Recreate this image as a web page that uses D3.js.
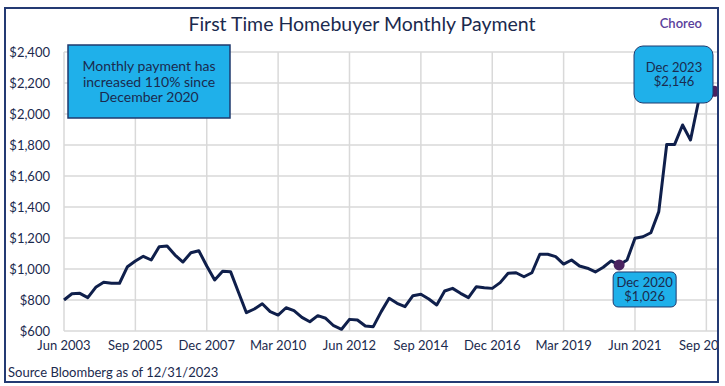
<!DOCTYPE html>
<html>
<head>
<meta charset="utf-8">
<script src="https://cdn.jsdelivr.net/npm/d3@7"></script>
<style>
  body { margin: 0; background: #fff; }
  text { font-family: Lato, "Open Sans", sans-serif; fill: #1b2a4e; }
</style>
</head>
<body>
<div id="chart"></div>
<script>
// quarterly payments, Jun 2003 .. Dec 2023
const payments = [
    800, 840, 843, 815, 882, 914, 908, 908, 1015, 1052,
    1082, 1058, 1144, 1148, 1090, 1045, 1105, 1118, 1019, 929,
    985, 983, 850, 718, 742, 776, 725, 703, 750, 731,
    688, 660, 699, 682, 634, 611, 675, 671, 632, 628,
    725, 811, 779, 757, 828, 837, 806, 768, 858, 875,
    843, 815, 886, 879, 875, 912, 972, 976, 950, 976,
    1095, 1095, 1080, 1032, 1058, 1019, 1005, 981, 1011, 1052,
    1026, 1058, 1198, 1208, 1234, 1370, 1804, 1804, 1929, 1832,
    2079, 2130, 2146
];
const tickLabels = ["Jun 2003", "Sep 2005", "Dec 2007", "Mar 2010", "Jun 2012",
    "Sep 2014", "Dec 2016", "Mar 2019", "Jun 2021", "Sep 2023"];
const tickStep = 9; // quarters between labels
const yTicks = [600, 800, 1000, 1200, 1400, 1600, 1800, 2000, 2200, 2400];
const callouts = [
    { idx: 70, lines: ["Dec 2020", "$1,026"] },
    { idx: 82, lines: ["Dec 2023", "$2,146"] }
];
const noteLines = ["Monthly payment has", "increased 110% since", "December 2020"];

(function() {
    const width = 725, height = 386;
    const svg = d3.select("#chart").append("svg")
        .attr("width", width).attr("height", height);

    svg.append("clipPath").attr("id", "frame")
        .append("rect").attr("x", 6).attr("y", 9).attr("width", 711).attr("height", 372);

    const g = svg.append("g").attr("clip-path", "url(#frame)");

    const x = d3.scaleLinear().domain([0, payments.length - 1]).range([64, 714.3]);
    const y = d3.scaleLinear().domain([600, 2400]).range([331, 52]);

    // grid
    g.append("g").selectAll("line").data(yTicks).enter().append("line")
        .attr("x1", 64).attr("x2", 718)
        .attr("y1", d => y(d)).attr("y2", d => y(d))
        .attr("stroke", "#d9d9d9").attr("stroke-width", 1.5);
    g.append("g").selectAll("line").data(tickLabels).enter().append("line")
        .attr("x1", (d, i) => x(i * tickStep)).attr("x2", (d, i) => x(i * tickStep))
        .attr("y1", y(600)).attr("y2", y(2400))
        .attr("stroke", "#d9d9d9").attr("stroke-width", 1.5);

    // axis labels
    g.append("g").selectAll("text").data(yTicks).enter().append("text")
        .attr("x", 50).attr("y", d => y(d) + 4.5)
        .attr("text-anchor", "end").style("font-size", "13px")
        .text(d => "$" + d3.format(",")(d));
    g.append("g").selectAll("text").data(tickLabels).enter().append("text")
        .attr("x", (d, i) => x(i * tickStep)).attr("y", 350)
        .attr("text-anchor", "middle").style("font-size", "13px")
        .text(d => d);

    // the line
    const line = d3.line().x((d, i) => x(i)).y(d => y(d));
    g.append("path").datum(payments)
        .attr("d", line)
        .attr("fill", "none")
        .attr("stroke", "#0f1f4b")
        .attr("stroke-width", 3)
        .attr("stroke-linejoin", "round");

    // markers
    g.selectAll(".dot").data(callouts).enter().append("circle")
        .attr("class", "dot")
        .attr("cx", d => x(d.idx)).attr("cy", d => y(payments[d.idx]))
        .attr("r", 5.5).attr("fill", "#4a2360");

    // Dec 2020 callout
    const c1 = callouts[0];
    g.append("rect")
        .attr("x", x(c1.idx) - 6).attr("y", y(payments[c1.idx]) + 7)
        .attr("width", 63).attr("height", 35).attr("rx", 5)
        .attr("fill", "#1fb0ea").attr("stroke", "#1f3a6e").attr("stroke-width", 1);
    g.append("text")
        .attr("x", x(c1.idx) + 25.5).attr("y", y(payments[c1.idx]) + 22)
        .attr("text-anchor", "middle").style("font-size", "13px")
        .selectAll("tspan").data(c1.lines).enter().append("tspan")
        .attr("x", x(c1.idx) + 25.5).attr("dy", (d, i) => i ? 14 : 0)
        .text(d => d);

    // Dec 2023 callout
    const c2 = callouts[1];
    g.append("rect")
        .attr("x", 634).attr("y", 46)
        .attr("width", 79).attr("height", 57).attr("rx", 9)
        .attr("fill", "#1fb0ea").attr("stroke", "#1f3a6e").attr("stroke-width", 1);
    g.append("text")
        .attr("x", 674).attr("y", 72)
        .attr("text-anchor", "middle").style("font-size", "13px")
        .selectAll("tspan").data(c2.lines).enter().append("tspan")
        .attr("x", 674).attr("dy", (d, i) => i ? 14 : 0)
        .text(d => d);

    // note box
    g.append("rect")
        .attr("x", 68).attr("y", 45).attr("width", 162).attr("height", 73)
        .attr("fill", "#1fb0ea").attr("stroke", "#1f3a6e").attr("stroke-width", 1.5);
    g.append("text")
        .attr("x", 149).attr("y", 71)
        .attr("text-anchor", "middle").style("font-size", "14px")
        .selectAll("tspan").data(noteLines).enter().append("tspan")
        .attr("x", 149).attr("dy", (d, i) => i ? 15.5 : 0)
        .text(d => d);

    // title, logo, source
    svg.append("text")
        .attr("x", 362).attr("y", 31)
        .attr("text-anchor", "middle").style("font-size", "19.5px")
        .text("First Time Homebuyer Monthly Payment");
    svg.append("text")
        .attr("x", 702).attr("y", 28)
        .attr("text-anchor", "end").style("font-size", "13px")
        .style("font-weight", "600").style("fill", "#5a3f9c")
        .text("Choreo");
    svg.append("text")
        .attr("x", 8).attr("y", 377)
        .style("font-size", "13px")
        .text("Source Bloomberg as of 12/31/2023");

    // frame
    svg.append("rect")
        .attr("x", 5).attr("y", 8).attr("width", 713).attr("height", 374)
        .attr("fill", "none").attr("stroke", "#243a73").attr("stroke-width", 2);
})();
</script>
</body>
</html>
